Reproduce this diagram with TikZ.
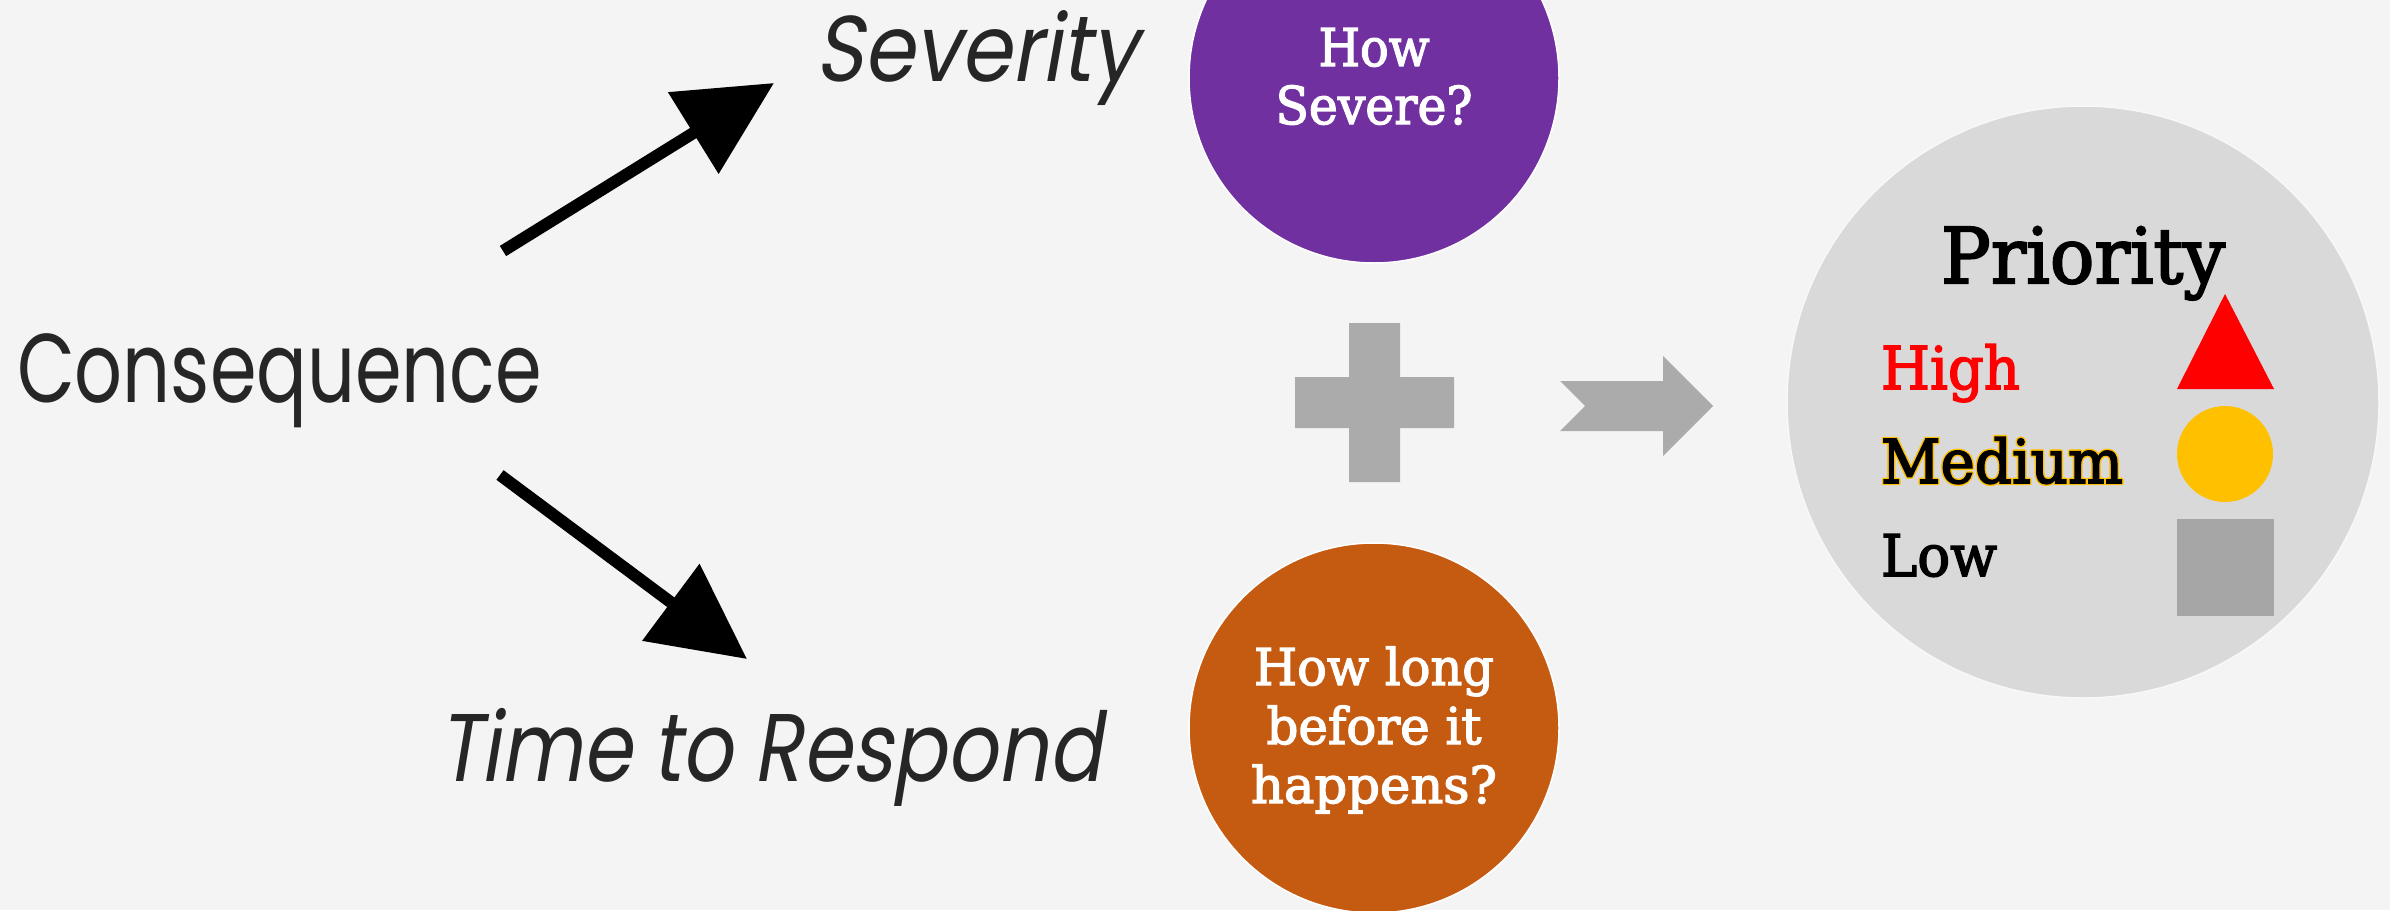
\documentclass[tikz,border=0pt]{standalone}
\usepackage{fontspec}
\usepackage{graphicx}
\usetikzlibrary{arrows.meta}
\newfontfamily\fut{Poppins}
\newfontfamily\futi[FakeSlant=0.2]{Poppins}
\newfontfamily\slab[FakeBold=2.6]{DejaVu Serif}
\definecolor{bg}{HTML}{F4F4F4}
\definecolor{txt}{HTML}{262626}
\definecolor{sevpurple}{HTML}{7030A0}
\definecolor{timeorange}{HTML}{C55A11}
\definecolor{midgray}{HTML}{ABABAB}
\definecolor{prgray}{HTML}{D9D9D9}
\definecolor{lowgray}{HTML}{A6A6A6}
\definecolor{gold}{HTML}{FFC000}
\definecolor{hired}{HTML}{FF0000}
\newlength\fitw
\newlength\fith
% #1 target ink width, #2 target cap height, #3 font, #4 text
\newcommand\fitto[4]{\settowidth\fitw{#3#4}\settoheight\fith{#3H}%
  \pgfmathsetmacro\fitsx{#1/\fitw}\pgfmathsetmacro\fitsy{#2/\fith}%
  \scalebox{\fitsx}[\fitsy]{#3#4}}
\newsavebox\medbox
\newsavebox\medgold
\newcommand\outlinedbox[4]{% #1 outline box, #2 offset, #3 diagonal offset, #4 main box
  \leavevmode
  \rlap{\hspace*{#2}\usebox{#1}}%
  \rlap{\hspace*{-#2}\usebox{#1}}%
  \rlap{\raisebox{#2}{\usebox{#1}}}%
  \rlap{\raisebox{-#2}{\usebox{#1}}}%
  \rlap{\hspace*{#3}\raisebox{#3}{\usebox{#1}}}%
  \rlap{\hspace*{-#3}\raisebox{#3}{\usebox{#1}}}%
  \rlap{\hspace*{#3}\raisebox{-#3}{\usebox{#1}}}%
  \rlap{\hspace*{-#3}\raisebox{-#3}{\usebox{#1}}}%
  \usebox{#4}}
\tikzset{
  lbl/.style={inner sep=0pt, outer sep=0pt},
  conn/.style={line width=12pt, draw=black, -{Triangle[length=95pt,width=93pt]}},
  bubble/.style={circle, inner sep=0pt, draw=white, line width=1.5pt},
}
\begin{document}
\sbox\medbox{\color{black}\fitto{242}{44}{\slab\fontsize{59}{59}\selectfont}{Medium}}%
\sbox\medgold{\color{gold}\fitto{242}{44}{\slab\fontsize{59}{59}\selectfont}{Medium}}%
\begin{tikzpicture}[x=1pt,y=-1pt]
\useasboundingbox (0,0) rectangle (2390,910);
\fill[bg] (0,0) rectangle (2390,910);
\clip (0,0) rectangle (2390,910);

% left texts
\node[lbl, anchor=base west, text=txt] (cons) at (17,402)
  {\fitto{525}{68}{\fut\fontsize{90}{90}\selectfont}{Consequence}};
\node[lbl, anchor=base west, text=txt] (sev) at (815,81)
  {\fitto{323}{65}{\futi\fontsize{90}{90}\selectfont}{Severity}};
\node[lbl, anchor=base west, text=txt] (time) at (438,781)
  {\fitto{664}{67}{\futi\fontsize{90}{90}\selectfont}{Time to Respond}};

% arrows
\coordinate (a1s) at (503,251);
\coordinate (a1e) at (774,83);
\coordinate (a2s) at (500,475);
\coordinate (a2e) at (747,659);
\draw[conn] (a1s) -- (a1e);
\draw[conn] (a2s) -- (a2e);

% circles
\node[bubble, fill=sevpurple, minimum size=370pt] (howsev) at (1374,78) {};
\node[lbl, anchor=base, text=white] (hs1) at (1374,66)
  {\fitto{111}{38}{\slab\fontsize{52}{52}\selectfont}{How}};
\node[lbl, anchor=base, text=white] (hs2) at (1374,124)
  {\fitto{197}{38}{\slab\fontsize{52}{52}\selectfont}{Severe?}};

\node[bubble, fill=timeorange, minimum size=370pt] (howlong) at (1374,728) {};
\node[lbl, anchor=base, text=white] (hl1) at (1374,685)
  {\fitto{240}{37}{\slab\fontsize{52}{52}\selectfont}{How long}};
\node[lbl, anchor=base, text=white] (hl2) at (1374,744)
  {\fitto{215}{37}{\slab\fontsize{52}{52}\selectfont}{before it}};
\node[lbl, anchor=base, text=white] (hl3) at (1374,803)
  {\fitto{246}{37}{\slab\fontsize{52}{52}\selectfont}{happens?}};

% plus sign
\fill[midgray] (1349,323) -- (1400,323) -- (1400,377) -- (1454,377) -- (1454,428)
  -- (1400,428) -- (1400,482) -- (1349,482) -- (1349,428) -- (1295,428)
  -- (1295,377) -- (1349,377) -- cycle;

% chevron arrow
\fill[midgray] (1560,381) -- (1663,381) -- (1663,356) -- (1713,406) -- (1663,456)
  -- (1663,431) -- (1560,431) -- (1585,406) -- cycle;

% priority circle
\node[bubble, fill=prgray, draw=bg!60!white, minimum size=592pt] (prio) at (2083,402) {};
\node[lbl, anchor=base west, text=black] (ptitle) at (1941,283)
  {\fitto{284}{56}{\slab\fontsize{76}{76}\selectfont}{Priority}};
\node[lbl, anchor=base west, text=hired] (high) at (1881,389)
  {\fitto{139}{43}{\slab\fontsize{59}{59}\selectfont}{High}};
\node[lbl, anchor=base west] (med) at (1881,483)
  {\outlinedbox{\medgold}{1.4pt}{1pt}{\medbox}};
\node[lbl, anchor=base west, text=black] (low) at (1881,576)
  {\fitto{116}{42}{\slab\fontsize{59}{59}\selectfont}{Low}};

\fill[hired] (2225,294) -- (2274,389) -- (2177,389) -- cycle;
\fill[gold] (2225,454) circle (48);
\fill[lowgray] (2177,519) rectangle (2274,616);
\end{tikzpicture}
\end{document}
